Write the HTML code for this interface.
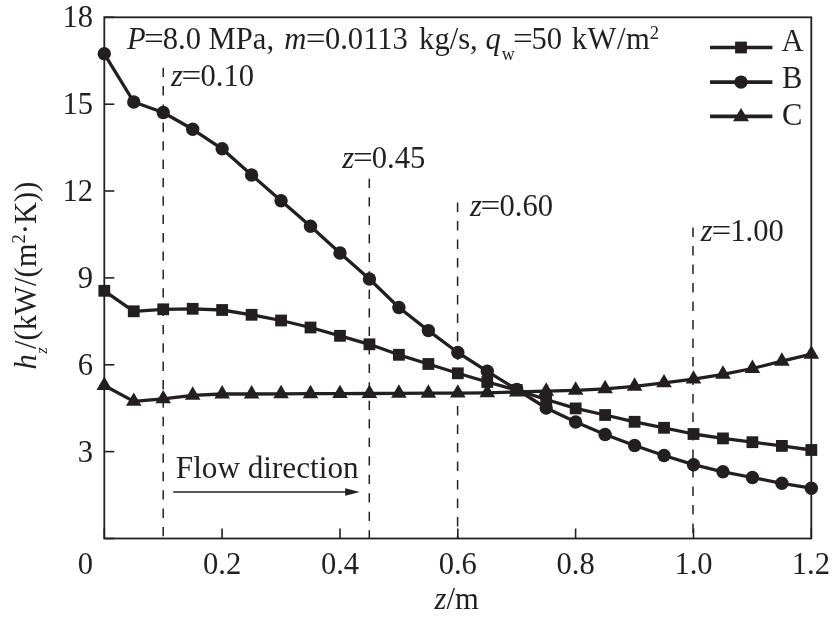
<!DOCTYPE html>
<html lang="en"><head><meta charset="utf-8"><title>Heat transfer coefficient along flow direction</title>
<style>
html,body{margin:0;padding:0;background:#fff;}
body{width:832px;height:619px;overflow:hidden;}
svg{display:block;will-change:transform;}
text{font-family:"Liberation Serif",serif;fill:#231f20;word-spacing:3px;}
.i{font-style:italic;}
</style></head><body>
<svg width="832" height="619" viewBox="0 0 832 619">
<rect width="832" height="619" fill="#fff"/>
<g stroke="#231f20" stroke-width="1.5" fill="none">
<line x1="163.2" y1="67.7" x2="163.2" y2="538.5" stroke-dasharray="9.4 8.97"/>
<line x1="369.3" y1="178.7" x2="369.3" y2="538.5" stroke-dasharray="9.4 9.1"/>
<line x1="457.6" y1="202.5" x2="457.6" y2="538.5" stroke-dasharray="9.4 9.1"/>
<line x1="693" y1="227.5" x2="693" y2="538.5" stroke-dasharray="9.4 9.1"/>
</g>
<rect x="104.3" y="17.3" width="707.0" height="521.2" fill="none" stroke="#231f20" stroke-width="1.8"/>
<g stroke="#231f20" stroke-width="1.6">
<line x1="104.3" y1="538.5" x2="104.3" y2="528.5"/>
<line x1="222.1" y1="538.5" x2="222.1" y2="528.5"/>
<line x1="340.0" y1="538.5" x2="340.0" y2="528.5"/>
<line x1="457.8" y1="538.5" x2="457.8" y2="528.5"/>
<line x1="575.6" y1="538.5" x2="575.6" y2="528.5"/>
<line x1="693.5" y1="538.5" x2="693.5" y2="528.5"/>
<line x1="811.3" y1="538.5" x2="811.3" y2="528.5"/>
<line x1="104.3" y1="538.5" x2="114.3" y2="538.5"/>
<line x1="104.3" y1="451.6" x2="114.3" y2="451.6"/>
<line x1="104.3" y1="364.8" x2="114.3" y2="364.8"/>
<line x1="104.3" y1="277.9" x2="114.3" y2="277.9"/>
<line x1="104.3" y1="191.0" x2="114.3" y2="191.0"/>
<line x1="104.3" y1="104.2" x2="114.3" y2="104.2"/>
<line x1="104.3" y1="17.3" x2="114.3" y2="17.3"/>
</g>
<g font-size="30.6">
<text x="93" y="461.6" text-anchor="end">3</text>
<text x="93" y="374.8" text-anchor="end">6</text>
<text x="93" y="287.9" text-anchor="end">9</text>
<text x="93" y="201.0" text-anchor="end">12</text>
<text x="93" y="114.2" text-anchor="end">15</text>
<text x="93" y="27.3" text-anchor="end">18</text>
<text x="85.4" y="574" text-anchor="middle">0</text>
<text x="222.1" y="574" text-anchor="middle">0.2</text>
<text x="340.0" y="574" text-anchor="middle">0.4</text>
<text x="457.8" y="574" text-anchor="middle">0.6</text>
<text x="575.6" y="574" text-anchor="middle">0.8</text>
<text x="693.5" y="574" text-anchor="middle">1.0</text>
<text x="830" y="574" text-anchor="end">1.2</text>
</g>
<g fill="none" stroke="#231f20" stroke-width="3.3" stroke-linejoin="round">
<polyline points="104.3,290.8 133.8,311.3 163.2,309.3 192.7,308.8 222.1,310.0 251.6,314.8 281.1,320.5 310.5,327.5 340.0,335.8 369.4,344.3 398.9,354.8 428.4,364.0 457.8,373.3 487.3,382.0 516.7,390.0 546.2,399.5 575.7,408.4 605.1,415.0 634.6,421.8 664.0,427.8 693.5,434.0 723.0,438.4 752.4,442.2 781.9,445.9 811.3,450.0"/>
<polyline points="104.3,53.8 133.8,102.0 163.2,112.5 192.7,129.3 222.1,148.8 251.6,175.0 281.1,200.8 310.5,226.3 340.0,253.0 369.4,279.0 398.9,307.5 428.4,330.6 457.8,352.5 487.3,371.3 516.7,389.5 546.2,408.0 575.7,422.0 605.1,434.5 634.6,445.5 664.0,455.5 693.5,464.7 723.0,471.8 752.4,477.5 781.9,483.3 811.3,488.2"/>
<polyline points="104.3,385.5 133.8,401.4 163.2,398.9 192.7,395.3 222.1,394.0 251.6,394.0 281.1,393.8 310.5,393.7 340.0,393.6 369.4,393.5 398.9,393.3 428.4,393.2 457.8,393.1 487.3,392.8 516.7,392.0 546.2,391.2 575.7,390.3 605.1,388.8 634.6,386.3 664.0,382.9 693.5,379.1 723.0,374.3 752.4,368.5 781.9,361.2 811.3,354.2"/>
</g>
<g fill="#231f20">
<rect x="98.40" y="284.90" width="11.8" height="11.8"/><rect x="127.86" y="305.40" width="11.8" height="11.8"/><rect x="157.32" y="303.40" width="11.8" height="11.8"/><rect x="186.78" y="302.90" width="11.8" height="11.8"/><rect x="216.24" y="304.10" width="11.8" height="11.8"/><rect x="245.70" y="308.90" width="11.8" height="11.8"/><rect x="275.16" y="314.60" width="11.8" height="11.8"/><rect x="304.62" y="321.60" width="11.8" height="11.8"/><rect x="334.08" y="329.90" width="11.8" height="11.8"/><rect x="363.54" y="338.40" width="11.8" height="11.8"/><rect x="393.00" y="348.90" width="11.8" height="11.8"/><rect x="422.46" y="358.10" width="11.8" height="11.8"/><rect x="451.92" y="367.40" width="11.8" height="11.8"/><rect x="481.38" y="376.10" width="11.8" height="11.8"/><rect x="510.84" y="384.10" width="11.8" height="11.8"/><rect x="540.30" y="393.60" width="11.8" height="11.8"/><rect x="569.76" y="402.50" width="11.8" height="11.8"/><rect x="599.22" y="409.10" width="11.8" height="11.8"/><rect x="628.68" y="415.90" width="11.8" height="11.8"/><rect x="658.14" y="421.90" width="11.8" height="11.8"/><rect x="687.60" y="428.10" width="11.8" height="11.8"/><rect x="717.06" y="432.50" width="11.8" height="11.8"/><rect x="746.52" y="436.30" width="11.8" height="11.8"/><rect x="775.98" y="440.00" width="11.8" height="11.8"/><rect x="805.44" y="444.10" width="11.8" height="11.8"/>
<circle cx="104.30" cy="53.80" r="6.7"/><circle cx="133.76" cy="102.00" r="6.7"/><circle cx="163.22" cy="112.50" r="6.7"/><circle cx="192.68" cy="129.30" r="6.7"/><circle cx="222.14" cy="148.80" r="6.7"/><circle cx="251.60" cy="175.00" r="6.7"/><circle cx="281.06" cy="200.80" r="6.7"/><circle cx="310.52" cy="226.30" r="6.7"/><circle cx="339.98" cy="253.00" r="6.7"/><circle cx="369.44" cy="279.00" r="6.7"/><circle cx="398.90" cy="307.50" r="6.7"/><circle cx="428.36" cy="330.60" r="6.7"/><circle cx="457.82" cy="352.50" r="6.7"/><circle cx="487.28" cy="371.30" r="6.7"/><circle cx="516.74" cy="389.50" r="6.7"/><circle cx="546.20" cy="408.00" r="6.7"/><circle cx="575.66" cy="422.00" r="6.7"/><circle cx="605.12" cy="434.50" r="6.7"/><circle cx="634.58" cy="445.50" r="6.7"/><circle cx="664.04" cy="455.50" r="6.7"/><circle cx="693.50" cy="464.70" r="6.7"/><circle cx="722.96" cy="471.80" r="6.7"/><circle cx="752.42" cy="477.50" r="6.7"/><circle cx="781.88" cy="483.30" r="6.7"/><circle cx="811.34" cy="488.20" r="6.7"/>
<polygon points="104.30,376.57 96.50,389.97 112.10,389.97"/><polygon points="133.76,392.47 125.96,405.87 141.56,405.87"/><polygon points="163.22,389.97 155.42,403.37 171.02,403.37"/><polygon points="192.68,386.37 184.88,399.77 200.48,399.77"/><polygon points="222.14,385.07 214.34,398.47 229.94,398.47"/><polygon points="251.60,385.07 243.80,398.47 259.40,398.47"/><polygon points="281.06,384.87 273.26,398.27 288.86,398.27"/><polygon points="310.52,384.77 302.72,398.17 318.32,398.17"/><polygon points="339.98,384.67 332.18,398.07 347.78,398.07"/><polygon points="369.44,384.57 361.64,397.97 377.24,397.97"/><polygon points="398.90,384.37 391.10,397.77 406.70,397.77"/><polygon points="428.36,384.27 420.56,397.67 436.16,397.67"/><polygon points="457.82,384.17 450.02,397.57 465.62,397.57"/><polygon points="487.28,383.87 479.48,397.27 495.08,397.27"/><polygon points="516.74,383.07 508.94,396.47 524.54,396.47"/><polygon points="546.20,382.27 538.40,395.67 554.00,395.67"/><polygon points="575.66,381.37 567.86,394.77 583.46,394.77"/><polygon points="605.12,379.87 597.32,393.27 612.92,393.27"/><polygon points="634.58,377.37 626.78,390.77 642.38,390.77"/><polygon points="664.04,373.97 656.24,387.37 671.84,387.37"/><polygon points="693.50,370.17 685.70,383.57 701.30,383.57"/><polygon points="722.96,365.37 715.16,378.77 730.76,378.77"/><polygon points="752.42,359.57 744.62,372.97 760.22,372.97"/><polygon points="781.88,352.27 774.08,365.67 789.68,365.67"/><polygon points="811.34,345.27 803.54,358.67 819.14,358.67"/>
</g>
<g stroke="#231f20" stroke-width="3.6">
<line x1="710" y1="47.5" x2="772.4" y2="47.5"/>
<line x1="710" y1="82.1" x2="772.4" y2="82.1"/>
<line x1="710" y1="116.4" x2="772.4" y2="116.4"/>
</g>
<g fill="#231f20"><rect x="735.10" y="41.60" width="11.8" height="11.8"/><circle cx="741.00" cy="82.10" r="6.7"/><polygon points="741.00,107.97 733.00,121.37 749.00,121.37"/></g>
<g font-size="30.6"><text x="781.5" y="50.5">A</text><text x="782" y="87.8">B</text><text x="782" y="125.2">C</text></g>
<text x="127" y="49" font-size="30.6"><tspan class="i">P</tspan><tspan textLength="19.8" lengthAdjust="spacingAndGlyphs" dx="-1.6">=</tspan><tspan dx="-1.2">8.0</tspan> <tspan dx="-3">MPa,</tspan> <tspan class="i" dx="-0.5">m</tspan><tspan textLength="19.8" lengthAdjust="spacingAndGlyphs" dx="-0.6">=</tspan><tspan dx="-0.6">0.0113</tspan> <tspan dx="0.5">kg/s,</tspan> <tspan class="i" dx="-3">q</tspan><tspan font-size="18" dy="10.5" dx="1">w</tspan><tspan dy="-10.5" dx="-1.8" textLength="19.8" lengthAdjust="spacingAndGlyphs">=</tspan><tspan dx="-1.2">50</tspan> <tspan dx="-1" textLength="78" lengthAdjust="spacing">kW/m</tspan><tspan font-size="18.5" dy="-10.5" dx="-0.5">2</tspan></text>
<text x="171" y="86.4" font-size="30.6"><tspan class="i">z</tspan><tspan textLength="19.8" lengthAdjust="spacingAndGlyphs" dx="-1.3">=</tspan><tspan dx="-0.9">0.10</tspan></text>
<text x="342.3" y="168" font-size="30.6"><tspan class="i">z</tspan><tspan textLength="19.8" lengthAdjust="spacingAndGlyphs" dx="-1.3">=</tspan><tspan dx="-0.9">0.45</tspan></text>
<text x="470" y="216" font-size="30.6"><tspan class="i">z</tspan><tspan textLength="19.8" lengthAdjust="spacingAndGlyphs" dx="-1.3">=</tspan><tspan dx="-0.9">0.60</tspan></text>
<text x="700.8" y="240.5" font-size="30.6"><tspan class="i">z</tspan><tspan textLength="19.8" lengthAdjust="spacingAndGlyphs" dx="-1.3">=</tspan><tspan dx="-0.9">1.00</tspan></text>
<text x="175.8" y="477.8" font-size="31.2" style="word-spacing:0">Flow direction</text>
<line x1="173.2" y1="492" x2="349" y2="492" stroke="#231f20" stroke-width="1.6"/>
<polygon points="359.8,492 345.2,488.3 345.2,495.7" fill="#231f20"/>
<text x="434.5" y="609.3" font-size="30.6"><tspan class="i">z</tspan>/m</text>
<text transform="translate(35.7,369.6) rotate(-90)" font-size="30.6"><tspan class="i">h</tspan><tspan class="i" font-size="16.5" dy="11.5" dx="0.6">z</tspan><tspan dy="-11.5" dx="-1.6">/(kW/(m</tspan><tspan font-size="18.5" dy="-10.5">2</tspan><tspan dy="10.5">·K))</tspan></text>
</svg></body></html>
